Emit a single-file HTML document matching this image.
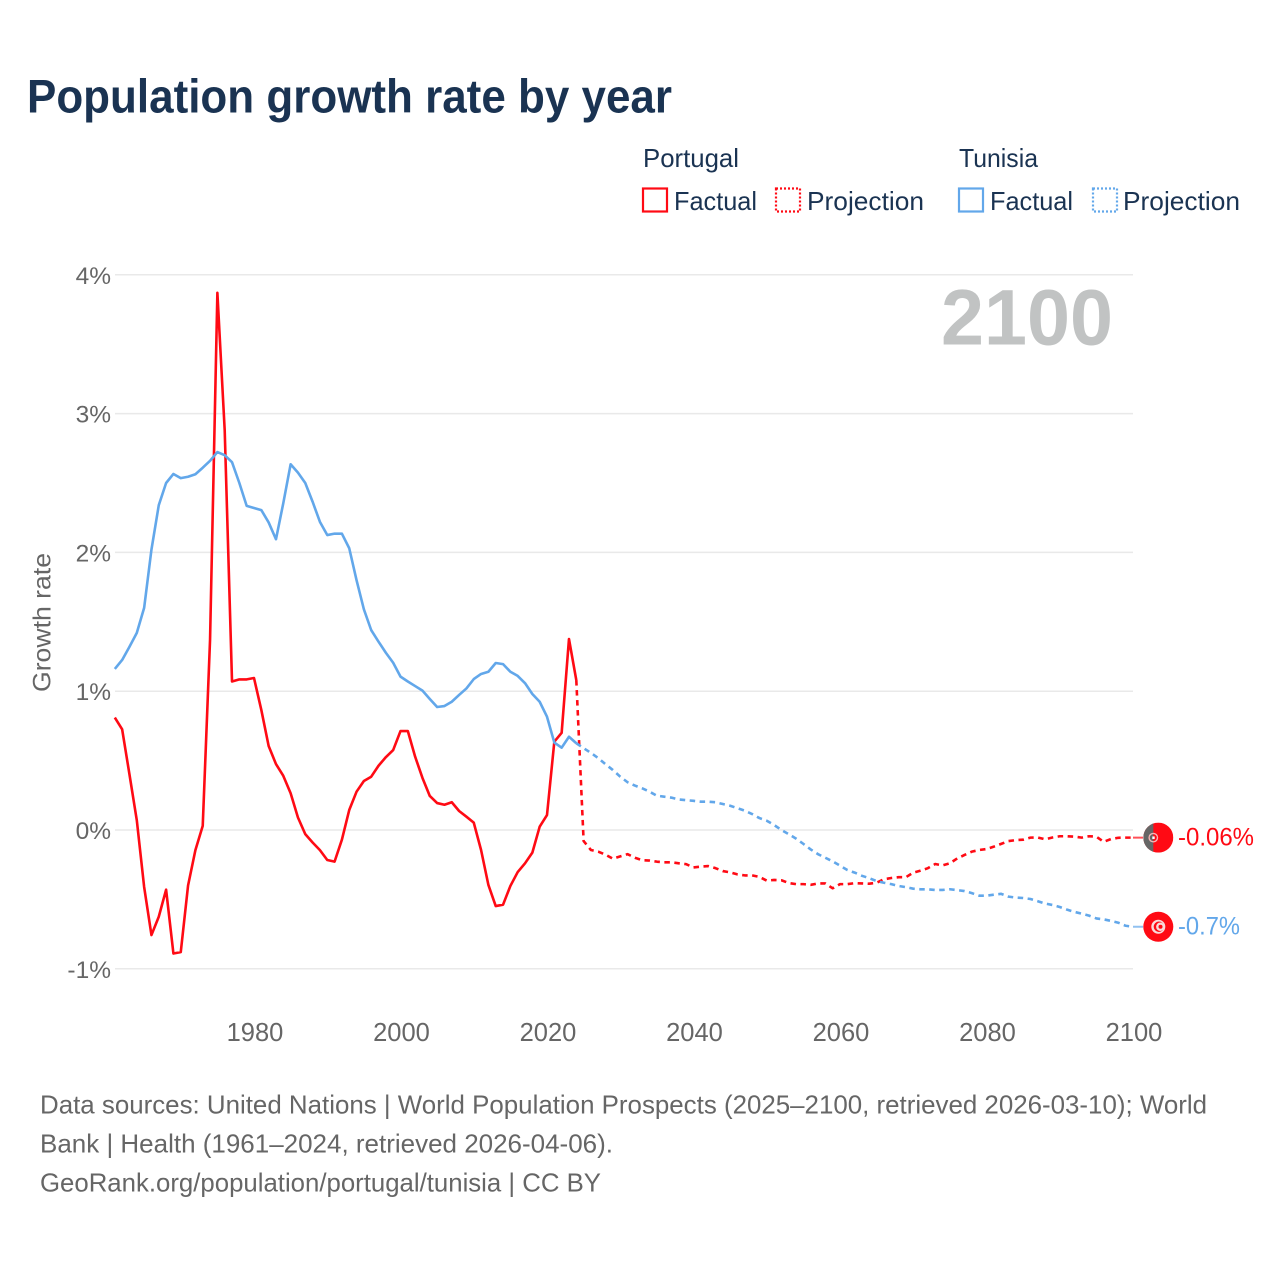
<!DOCTYPE html>
<html lang="en">
<head>
<meta charset="utf-8">
<title>Population growth rate by year</title>
<style>
html,body{margin:0;padding:0;background:#fff;}
svg{display:block;font-family:"Liberation Sans",sans-serif;}
</style>
</head>
<body>
<svg id="chart" width="1280" height="1280" viewBox="0 0 1280 1280" xmlns="http://www.w3.org/2000/svg">
  <rect width="1280" height="1280" fill="#fff"/>
  <text x="27" y="112.5" font-size="47.5" font-weight="700" fill="#1a3352" textLength="645" lengthAdjust="spacingAndGlyphs">Population growth rate by year</text>

  <g font-size="26" fill="#1a3352">
    <text x="643" y="167" textLength="96" lengthAdjust="spacingAndGlyphs">Portugal</text>
    <text x="959" y="167" textLength="79" lengthAdjust="spacingAndGlyphs">Tunisia</text>
    <rect x="643" y="188.5" width="24" height="23" fill="none" stroke="#ff0a14" stroke-width="2.2"/>
    <text x="674" y="210" textLength="83" lengthAdjust="spacingAndGlyphs">Factual</text>
    <rect x="776" y="188.5" width="24" height="23" fill="none" stroke="#ff0a14" stroke-width="2.2" stroke-dasharray="2 2"/>
    <text x="807" y="210" textLength="117" lengthAdjust="spacingAndGlyphs">Projection</text>
    <rect x="959" y="188.5" width="24" height="23" fill="none" stroke="#62a7ea" stroke-width="2.2"/>
    <text x="990" y="210" textLength="83" lengthAdjust="spacingAndGlyphs">Factual</text>
    <rect x="1093" y="188.5" width="24" height="23" fill="none" stroke="#62a7ea" stroke-width="2.2" stroke-dasharray="2 2"/>
    <text x="1123" y="210" textLength="117" lengthAdjust="spacingAndGlyphs">Projection</text>
  </g>

  <g id="grid"></g>
  <g id="y-ticks"></g>
  <g id="x-ticks"></g>

  <text transform="translate(50.5,692) rotate(-90)" font-size="25" fill="#666" textLength="139" lengthAdjust="spacingAndGlyphs">Growth rate</text>
  <text x="941" y="344.5" font-size="79" font-weight="700" fill="#c1c3c3" textLength="172" lengthAdjust="spacingAndGlyphs">2100</text>

  <g id="series"></g>

  <g id="flag-portugal">
    <clipPath id="pt-clip"><circle cx="0" cy="0" r="15"/></clipPath>
    <g clip-path="url(#pt-clip)">
      <rect x="-15" y="-15" width="30" height="30" fill="#ff0a14"/>
      <rect x="-15" y="-15" width="10" height="30" fill="#666"/>
    </g>
    <circle cx="-5" cy="0" r="4.2" fill="none" stroke="#f5b5b5" stroke-width="1.4"/>
    <rect x="-6" y="-1.2" width="2.4" height="2.6" fill="#fff"/>
  </g>
  <g id="flag-tunisia">
    <circle cx="0" cy="0" r="15" fill="#ff0a14"/>
    <circle cx="0" cy="0" r="7" fill="#f8dcdc"/>
    <circle cx="0.6" cy="0" r="5.2" fill="#ff0a14"/>
    <circle cx="2" cy="0" r="4.2" fill="#f8dcdc"/>
    <circle cx="2.2" cy="0" r="2" fill="#ff0a14"/>
  </g>
  <text id="label-portugal" x="1178" font-size="25" fill="#ff0a14" textLength="76" lengthAdjust="spacingAndGlyphs">-0.06%</text>
  <text id="label-tunisia" x="1178" font-size="25" fill="#62a7ea" textLength="62" lengthAdjust="spacingAndGlyphs">-0.7%</text>

  <g font-size="26" fill="#666">
    <text x="40" y="1113.5" textLength="1167" lengthAdjust="spacingAndGlyphs">Data sources: United Nations | World Population Prospects (2025–2100, retrieved 2026-03-10); World</text>
    <text x="40" y="1152.5" textLength="573" lengthAdjust="spacingAndGlyphs">Bank | Health (1961–2024, retrieved 2026-04-06).</text>
    <text x="40" y="1191.5" textLength="561" lengthAdjust="spacingAndGlyphs">GeoRank.org/population/portugal/tunisia | CC BY</text>
  </g>
</svg>
<script>
const firstFactualYear = 1961;
const firstProjectionYear = 2024;
const xTickYears = [1980, 2000, 2020, 2040, 2060, 2080, 2100];
const yTickValues = [4, 3, 2, 1, 0, -1];
const yTickLabels = ["4%", "3%", "2%", "1%", "0%", "-1%"];

const portugalFactual = [
  0.81, 0.725, 0.40, 0.07, -0.41, -0.757, -0.625, -0.43, -0.89, -0.88,
  -0.40, -0.145, 0.03, 1.37, 3.87, 2.88, 1.07, 1.085, 1.085, 1.095,
  0.865, 0.605, 0.475, 0.39, 0.265, 0.09, -0.03, -0.09, -0.145, -0.216,
  -0.228, -0.07, 0.144, 0.276, 0.353, 0.384, 0.463, 0.525, 0.576, 0.713,
  0.713, 0.528, 0.375, 0.245, 0.194, 0.182, 0.20, 0.137, 0.096, 0.053,
  -0.144, -0.396, -0.548, -0.538, -0.403, -0.303, -0.24, -0.163, 0.024, 0.108,
  0.636, 0.70, 1.376, 1.08
];
const portugalProjection = [
  1.08, -0.08, -0.144, -0.156, -0.178, -0.207, -0.19, -0.174, -0.2, -0.218,
  -0.22, -0.228, -0.233, -0.233, -0.24, -0.246, -0.27, -0.264, -0.26, -0.275,
  -0.296, -0.305, -0.32, -0.327, -0.327, -0.338, -0.365, -0.36, -0.362, -0.382,
  -0.39, -0.39, -0.395, -0.385, -0.385, -0.42, -0.39, -0.39, -0.383, -0.385,
  -0.387, -0.38, -0.355, -0.346, -0.34, -0.34, -0.307, -0.293, -0.275, -0.245,
  -0.255, -0.24, -0.205, -0.18, -0.156, -0.144, -0.137, -0.12, -0.10, -0.08,
  -0.073, -0.07, -0.055, -0.054, -0.067, -0.054, -0.045, -0.045, -0.048, -0.055,
  -0.045, -0.048, -0.085, -0.065, -0.056, -0.055, -0.055
];
const tunisiaFactual = [
  1.16, 1.225, 1.32, 1.42, 1.60, 2.02, 2.34, 2.50, 2.565, 2.535,
  2.545, 2.563, 2.61, 2.66, 2.723, 2.70, 2.65, 2.50, 2.335, 2.32,
  2.305, 2.216, 2.095, 2.355, 2.635, 2.575, 2.50, 2.365, 2.22, 2.125,
  2.135, 2.135, 2.03, 1.80, 1.59, 1.44, 1.357, 1.277, 1.205, 1.105,
  1.07, 1.037, 1.004, 0.944, 0.886, 0.893, 0.924, 0.973, 1.02, 1.087,
  1.124, 1.14, 1.203, 1.195, 1.14, 1.11, 1.058, 0.98, 0.924, 0.816,
  0.63, 0.593, 0.672, 0.625
];
const tunisiaProjection = [
  0.625, 0.59, 0.555, 0.518, 0.473, 0.432, 0.384, 0.344, 0.32, 0.30,
  0.276, 0.247, 0.24, 0.233, 0.22, 0.215, 0.21, 0.204, 0.204, 0.2,
  0.187, 0.175, 0.157, 0.139, 0.115, 0.086, 0.067, 0.036, 0.0, -0.03,
  -0.062, -0.10, -0.14, -0.174, -0.2, -0.226, -0.257, -0.288, -0.307, -0.33,
  -0.347, -0.368, -0.38, -0.39, -0.403, -0.412, -0.423, -0.427, -0.427, -0.432,
  -0.432, -0.427, -0.433, -0.44, -0.455, -0.473, -0.473, -0.466, -0.46, -0.48,
  -0.487, -0.49, -0.497, -0.513, -0.53, -0.54, -0.555, -0.574, -0.59, -0.603,
  -0.617, -0.637, -0.644, -0.655, -0.668, -0.69, -0.697
];

const NS = "http://www.w3.org/2000/svg";
const RED = "#ff0a14";
const BLUE = "#62a7ea";
function xScale(year) { return 1133 + (year - 2100) * 7.325; }
function yScale(v) { return 830 - v * 138.8; }

const gridG = document.getElementById("grid");
const yTicksG = document.getElementById("y-ticks");
const xTicksG = document.getElementById("x-ticks");
const seriesG = document.getElementById("series");

yTickValues.forEach(function (v, i) {
  const line = document.createElementNS(NS, "line");
  
  
  line.setAttribute("x1", 115);
  line.setAttribute("x2", 1133);
  line.setAttribute("y1", yScale(v));
  line.setAttribute("y2", yScale(v));
  line.setAttribute("stroke", "#e9e9e9");
  line.setAttribute("stroke-width", 1.5);
  gridG.appendChild(line);

  const t = document.createElementNS(NS, "text");
  
  
  t.setAttribute("x", 111);
  t.setAttribute("y", yScale(v) + 9);
  t.setAttribute("text-anchor", "end");
  t.setAttribute("font-size", 24.5);
  t.setAttribute("fill", "#666");
  t.textContent = yTickLabels[i];
  yTicksG.appendChild(t);
});

xTickYears.forEach(function (year) {
  const t = document.createElementNS(NS, "text");
  
  
  t.setAttribute("x", xScale(year) + 1);
  t.setAttribute("y", 1041);
  t.setAttribute("text-anchor", "middle");
  t.setAttribute("font-size", 25.5);
  t.setAttribute("fill", "#666");
  t.textContent = String(year);
  xTicksG.appendChild(t);
});

function pathFor(values, startYear) {
  return values.map(function (v, i) {
    return (i ? "L" : "M") + xScale(startYear + i).toFixed(2) + " " + yScale(v).toFixed(2);
  }).join(" ");
}

function addLine(name, values, startYear, color, dashed) {
  const p = document.createElementNS(NS, "path");
  
  
  p.setAttribute("d", pathFor(values, startYear));
  p.setAttribute("fill", "none");
  p.setAttribute("stroke", color);
  p.setAttribute("stroke-width", 2.6);
  p.setAttribute("stroke-linejoin", "round");
  if (dashed) p.setAttribute("stroke-dasharray", "5.5 4.5");
  seriesG.appendChild(p);
}

addLine("portugal-factual-line", portugalFactual, firstFactualYear, RED, false);
addLine("tunisia-factual-line", tunisiaFactual, firstFactualYear, BLUE, false);
addLine("portugal-projection-line", portugalProjection, firstProjectionYear, RED, true);
addLine("tunisia-projection-line", tunisiaProjection, firstProjectionYear, BLUE, true);

function placeEnd(values, color, flagId, labelId, connectorName) {
  const lastY = yScale(values[values.length - 1]);
  const c = document.createElementNS(NS, "line");
  
  
  c.setAttribute("x1", xScale(2100));
  c.setAttribute("x2", 1143);
  c.setAttribute("y1", lastY);
  c.setAttribute("y2", lastY);
  c.setAttribute("stroke", color);
  c.setAttribute("stroke-width", 2);
  c.setAttribute("stroke-opacity", 0.7);
  seriesG.appendChild(c);
  document.getElementById(flagId).setAttribute("transform", "translate(1158.3," + lastY + ")");
  document.getElementById(labelId).setAttribute("y", lastY + 8);
}

placeEnd(portugalProjection, RED, "flag-portugal", "label-portugal", "portugal-end-connector");
placeEnd(tunisiaProjection, BLUE, "flag-tunisia", "label-tunisia", "tunisia-end-connector");
</script>
</body>
</html>
